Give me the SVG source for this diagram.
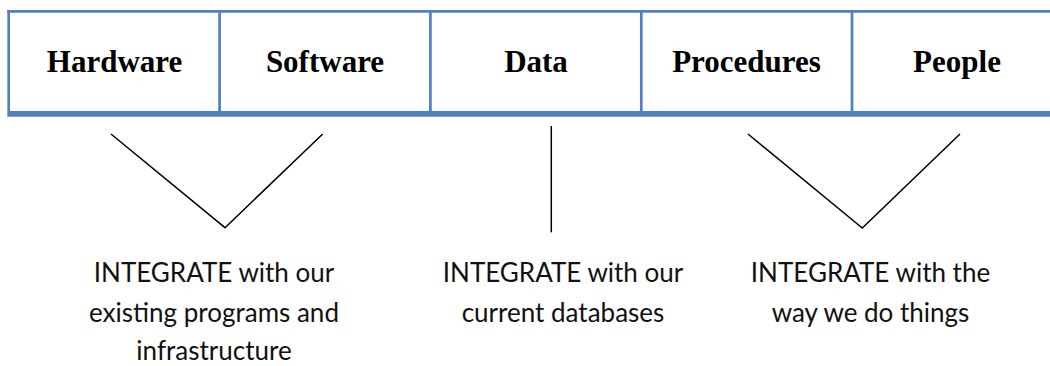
<svg xmlns="http://www.w3.org/2000/svg" width="1050" height="366" viewBox="0 0 1050 366">
  <style>
    .rule { stroke: #4F81BD; stroke-width: 2.7; fill: none; }
    .band { fill: #4F81BD; }
    .head { font-family: "Liberation Serif", "Times New Roman", serif; font-weight: bold; font-size: 31px; fill: #000; text-anchor: middle; }
    .note { font-family: Lato, "Liberation Sans", Arial, sans-serif; font-size: 26px; fill: #111; text-anchor: middle; }
    .link { stroke: #000; stroke-width: 1.5; fill: none; stroke-linejoin: miter; }
  </style>

  <rect width="1050" height="366" fill="#fff"/>

  <!-- table frame: top rule and heavy bottom band -->
  <g id="table-frame">
    <line class="rule" x1="7.3" y1="11.3" x2="1050" y2="11.3"/>
    <rect class="band" x="7.3" y="111" width="1042.7" height="5.7"/>
  </g>

  <!-- header cells -->
  <g id="cell-hardware">
    <line class="rule" x1="8.7" y1="10" x2="8.7" y2="111"/>
    <text class="head" x="114.5" y="71.7">Hardware</text>
  </g>
  <g id="cell-software">
    <line class="rule" x1="219.6" y1="10" x2="219.6" y2="111"/>
    <text class="head" x="325" y="71.7">Software</text>
  </g>
  <g id="cell-data">
    <line class="rule" x1="430.4" y1="10" x2="430.4" y2="111"/>
    <text class="head" x="536" y="71.7">Data</text>
  </g>
  <g id="cell-procedures">
    <line class="rule" x1="641.3" y1="10" x2="641.3" y2="111"/>
    <text class="head" x="746.5" y="71.7">Procedures</text>
  </g>
  <g id="cell-people">
    <line class="rule" x1="852" y1="10" x2="852" y2="111"/>
    <text class="head" x="957" y="71.7">People</text>
  </g>

  <!-- connectors from the header into the notes -->
  <g id="connectors">
    <polyline class="link" points="111,134 225,227.7 322.7,134"/>
    <line class="link" x1="551.3" y1="126" x2="551.3" y2="232.3"/>
    <polyline class="link" points="748,134 862.3,228 960,134"/>
  </g>

  <!-- notes -->
  <g id="note-systems">
    <text class="note" x="214" y="281.7">INTEGRATE with our</text>
    <text class="note" x="214" y="321.5">existing programs and</text>
    <text class="note" x="214" y="360">infrastructure</text>
  </g>
  <g id="note-data">
    <text class="note" x="563" y="281.7">INTEGRATE with our</text>
    <text class="note" x="563" y="321.5">current databases</text>
  </g>
  <g id="note-process">
    <text class="note" x="870.5" y="281.7">INTEGRATE with the</text>
    <text class="note" x="870.5" y="321.5">way we do things</text>
  </g>
</svg>
